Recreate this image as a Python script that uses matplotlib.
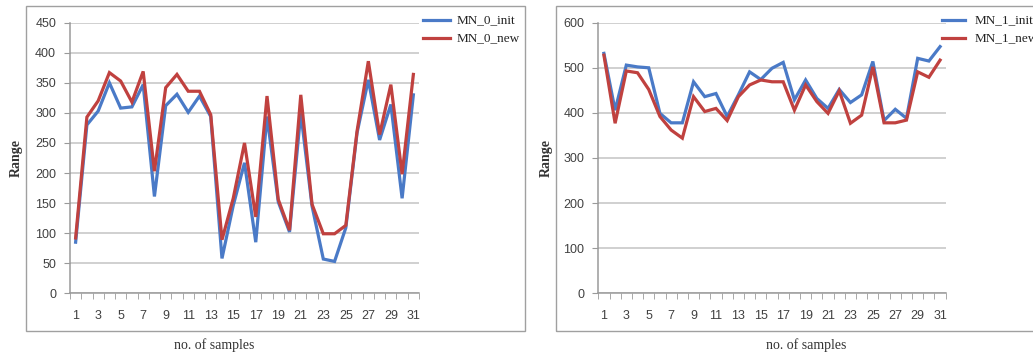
import matplotlib
matplotlib.use("Agg")
import matplotlib.pyplot as plt
from matplotlib.patches import Rectangle
import numpy as np

samples = list(range(1, 32))

mn0_init = [85, 280, 303, 350, 308, 310, 347, 161, 312, 331, 301, 328, 294, 58, 146, 217,
            85, 294, 152, 102, 300, 145, 57, 53, 109, 267, 355, 255, 314, 158, 330]
mn0_new = [92, 293, 320, 367, 353, 318, 369, 203, 342, 364, 336, 336, 297, 89, 158, 250,
           127, 328, 156, 105, 330, 148, 99, 99, 113, 270, 386, 264, 347, 198, 364]

mn1_init = [532, 406, 506, 502, 500, 399, 378, 378, 469, 436, 443, 392, 440, 491, 474, 499,
            512, 429, 473, 432, 410, 452, 423, 440, 514, 383, 408, 388, 521, 515, 547]
mn1_new = [528, 377, 493, 489, 452, 392, 362, 344, 436, 403, 410, 383, 436, 462, 473, 469,
           469, 406, 462, 425, 399, 449, 377, 395, 502, 378, 378, 384, 491, 479, 517]

panels = [
    dict(init=mn0_init, new=mn0_new, names=("MN_0_init", "MN_0_new"), ymax=450, ystep=50),
    dict(init=mn1_init, new=mn1_new, names=("MN_1_init", "MN_1_new"), ymax=600, ystep=100),
]

W, H = 1033, 355
fig = plt.figure(figsize=(W / 100, H / 100), dpi=100)

blue = "#4a7ac7"
red = "#c0413f"
grid_c = "#c4c4c4"
axis_c = "#9a9a9a"
tick_txt = "#404040"
serif = ["Liberation Serif", "DejaVu Serif"]
sans = ["Liberation Sans", "DejaVu Sans"]

ax_px = [(70, 419), (598.3, 945.7)]
frame_px = [(26, 525), (556, 1060)]
ylabel_x = [16, 546]
xlabel_x = [214, 806]
legend_px = [(423, 450, 457), (942, 965, 975)]
ybot, ytop = 293.3, 22.7

for i, p in enumerate(panels):
    x0, x1 = ax_px[i]
    ax = fig.add_axes([x0 / W, (H - ybot) / H, (x1 - x0) / W, (ybot - ytop) / H])
    n = len(samples)
    ax.plot(samples, p["init"], color=blue, lw=2.3, solid_joinstyle="miter", zorder=3)
    ax.plot(samples, p["new"], color=red, lw=2.3, solid_joinstyle="miter", zorder=4)
    ax.set_xlim(0.5, n + 0.5)
    ax.set_ylim(0, p["ymax"])
    ax.set_yticks(np.arange(0, p["ymax"] + 1, p["ystep"]))
    ax.yaxis.grid(True, color=grid_c, lw=1.1)
    ax.set_axisbelow(True)
    ax.set_xticks(samples[::2])
    ax.set_xticks(np.arange(0.5, n + 1, 1), minor=True)
    ax.tick_params(axis="x", which="major", length=0, pad=12, labelsize=9, labelcolor=tick_txt)
    ax.tick_params(axis="x", which="minor", length=4, color=axis_c, direction="out")
    ax.tick_params(axis="y", length=4, color=axis_c, pad=6, labelsize=9, labelcolor=tick_txt)
    for lab in ax.get_xticklabels() + ax.get_yticklabels():
        lab.set_family(sans)
    for s in ("top", "right"):
        ax.spines[s].set_visible(False)
    for s in ("left", "bottom"):
        ax.spines[s].set_color(axis_c)
        ax.spines[s].set_linewidth(1.1)

    fx0, fx1 = frame_px[i]
    fig.patches.append(Rectangle((fx0 / W, (H - 331) / H), (fx1 - fx0) / W, (331 - 6) / H,
                                 transform=fig.transFigure, fill=False, ec="#a0a0a0", lw=1.0,
                                 clip_on=False))
    fig.text(ylabel_x[i] / W, (H - 158) / H, "Range", rotation=90, ha="center", va="center",
             family=serif, fontsize=10, fontweight="bold", color="#333333")
    fig.text(xlabel_x[i] / W, (H - 345) / H, "no. of samples", ha="center", va="center",
             family=serif, fontsize=10, color="#333333")
    lx0, lx1, tx = legend_px[i]
    for yy, c, name in ((20, blue, p["names"][0]), (38, red, p["names"][1])):
        fig.lines.append(plt.Line2D([lx0 / W, lx1 / W], [(H - yy) / H] * 2, color=c, lw=2.3,
                                    transform=fig.transFigure))
        fig.text(tx / W, (H - yy) / H, name, ha="left", va="center", family=serif,
                 fontsize=9.5, color="#222222")

fig.savefig("out.png", dpi=100, facecolor="white")
